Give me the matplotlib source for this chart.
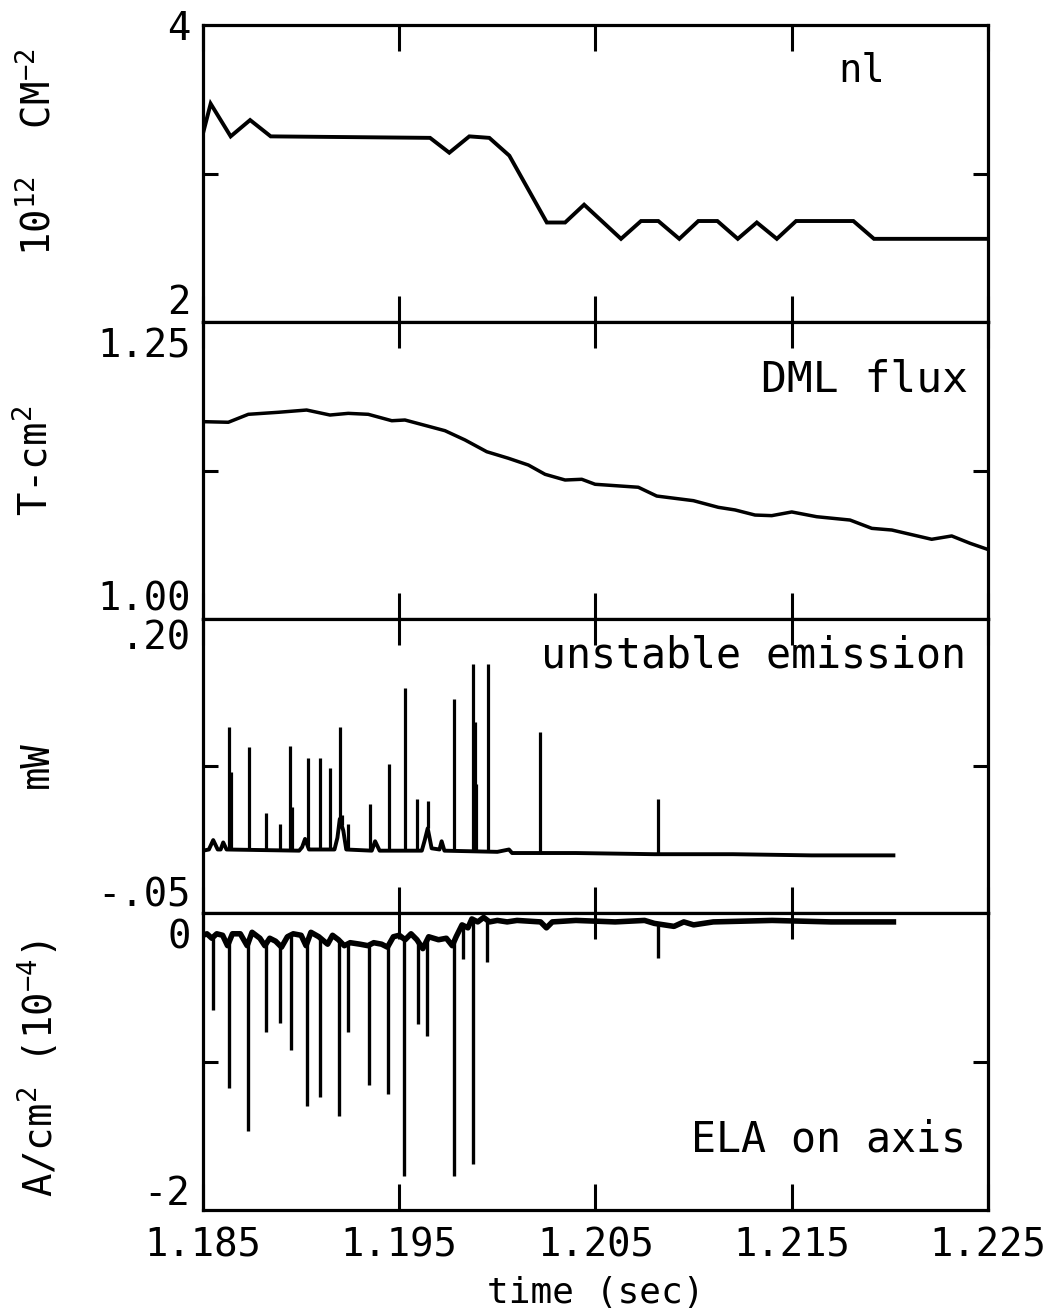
import matplotlib
matplotlib.use("Agg")
import matplotlib.pyplot as plt
import numpy as np

# ---------------- data ----------------
# Panel 1: line density nl (10^12 cm^-2)
nl_t = [1.18500, 1.18539, 1.18641, 1.18740, 1.18845, 1.19657, 1.19755, 1.19857,
        1.19959, 1.20061, 1.20252, 1.20345, 1.20442, 1.20630, 1.20732, 1.20820,
        1.20927, 1.21024, 1.21121, 1.21225, 1.21322, 1.21424, 1.21522, 1.21814,
        1.21919, 1.22500]
nl_v = [3.27, 3.47, 3.25, 3.36, 3.25, 3.24, 3.14, 3.25,
        3.24, 3.12, 2.67, 2.67, 2.79, 2.56, 2.68, 2.68,
        2.56, 2.68, 2.68, 2.56, 2.67, 2.56, 2.68, 2.68,
        2.56, 2.56]

# Panel 2: DML flux (T-cm^2)
dml_t = [1.18502, 1.18629, 1.18731, 1.18884, 1.19028, 1.19147, 1.19240, 1.19342,
         1.19462, 1.19529, 1.19733, 1.19835, 1.19946, 1.20056, 1.20158, 1.20243,
         1.20345, 1.20430, 1.20498, 1.20718, 1.20812, 1.20999, 1.21126, 1.21211,
         1.21313, 1.21398, 1.21500, 1.21627, 1.21797, 1.21908, 1.22010, 1.22213,
         1.22315, 1.22409, 1.22500]
dml_v = [1.1661, 1.1656, 1.1723, 1.1740, 1.1759, 1.1717, 1.1731, 1.1723,
         1.1669, 1.1675, 1.1585, 1.1507, 1.1408, 1.1353, 1.1296, 1.1218,
         1.1170, 1.1176, 1.1134, 1.1109, 1.1035, 1.0996, 1.0940, 1.0918,
         1.0875, 1.0870, 1.0901, 1.0861, 1.0833, 1.0763, 1.0749, 1.0671,
         1.0699, 1.0637, 1.0585]

# Panel 3: unstable emission (mW) - baseline and spikes
em_base_t = [1.18500, 1.18530, 1.18552, 1.18575, 1.18590, 1.18603, 1.18620, 1.18990,
             1.19005, 1.19020, 1.19040, 1.19170, 1.19185, 1.19197, 1.19215, 1.19230,
             1.19360, 1.19377, 1.19400, 1.19615, 1.19630, 1.19645, 1.19665, 1.19705,
             1.19716, 1.19730, 1.20000, 1.20059, 1.20075, 1.20400, 1.20800, 1.21200,
             1.21600, 1.22018]
em_base_v = [0.003, 0.004, 0.012, 0.004, 0.004, 0.010, 0.004, 0.003,
             0.006, 0.013, 0.004, 0.004, 0.014, 0.030, 0.020, 0.004,
             0.003, 0.011, 0.003, 0.003, 0.012, 0.022, 0.005, 0.004,
             0.011, 0.003, 0.002, 0.004, 0.001, 0.001, 0.000, 0.000,
             -0.001, -0.001]
em_spike_t = [1.18632, 1.18642, 1.18734, 1.18821, 1.18894, 1.18945, 1.18955, 1.19034,
              1.19096, 1.19149, 1.19197, 1.19207, 1.19240, 1.19351, 1.19446, 1.19529,
              1.19592, 1.19645, 1.19781, 1.19876, 1.19886, 1.19893, 1.19951, 1.20217,
              1.20820]
em_spike_v = [0.108, 0.070, 0.091, 0.035, 0.026, 0.092, 0.040, 0.082,
              0.082, 0.073, 0.108, 0.033, 0.026, 0.043, 0.077, 0.141,
              0.047, 0.045, 0.132, 0.162, 0.112, 0.060, 0.162, 0.104,
              0.047]

# Panel 4: ELA on axis (A/cm^2, 10^-4) - baseline and dips
ela_base_t = [1.18500, 1.18520, 1.18545, 1.18570, 1.18600, 1.18625, 1.18650, 1.18690,
              1.18725, 1.18750, 1.18790, 1.18815, 1.18840, 1.18870, 1.18900, 1.18930,
              1.18960, 1.19000, 1.19025, 1.19050, 1.19090, 1.19135, 1.19160, 1.19190,
              1.19220, 1.19250, 1.19300, 1.19340, 1.19370, 1.19410, 1.19440, 1.19470,
              1.19500, 1.19530, 1.19560, 1.19590, 1.19620, 1.19650, 1.19700, 1.19740,
              1.19770, 1.19790, 1.19820, 1.19850, 1.19870, 1.19900, 1.19930, 1.19960,
              1.20000, 1.20050, 1.20100, 1.20220, 1.20250, 1.20280, 1.20400, 1.20600,
              1.20750, 1.20800, 1.20900, 1.20950, 1.21000, 1.21100, 1.21400, 1.21700,
              1.22018]
ela_base_v = [-0.15, -0.14, -0.17, -0.14, -0.15, -0.22, -0.14, -0.14,
              -0.22, -0.13, -0.17, -0.22, -0.17, -0.19, -0.23, -0.16,
              -0.14, -0.15, -0.22, -0.13, -0.16, -0.21, -0.15, -0.18,
              -0.22, -0.20, -0.21, -0.22, -0.20, -0.21, -0.23, -0.16,
              -0.15, -0.18, -0.14, -0.18, -0.24, -0.16, -0.18, -0.17,
              -0.22, -0.16, -0.08, -0.10, -0.04, -0.06, -0.03, -0.06,
              -0.05, -0.06, -0.05, -0.06, -0.10, -0.06, -0.05, -0.06,
              -0.05, -0.07, -0.09, -0.06, -0.08, -0.06, -0.05, -0.06,
              -0.06]
ela_dip_t = [1.18552, 1.18632, 1.18731, 1.18821, 1.18894, 1.18950, 1.19032, 1.19096,
             1.19193, 1.19240, 1.19347, 1.19444, 1.19526, 1.19594, 1.19643, 1.19779,
             1.19827, 1.19874, 1.19946, 1.20819]
ela_dip_v = [-0.65, -1.18, -1.47, -0.80, -0.74, -0.92, -1.30, -1.24,
             -1.37, -0.80, -1.16, -1.22, -1.77, -0.75, -0.83, -1.77,
             -0.31, -1.69, -0.33, -0.30]

xticks = [1.185, 1.195, 1.205, 1.215, 1.225]
xtick_labels = ["1.185", "1.195", "1.205", "1.215", "1.225"]

# ---------------- figure ----------------
W, H = 1051, 1315
FONT = ["DejaVu Sans Mono", "DejaVu Sans"]
plt.rcParams["font.family"] = FONT
plt.rcParams["mathtext.default"] = "regular"
fig = plt.figure(figsize=(W / 100, H / 100), dpi=100)

left_px, right_px = 203, 988
bounds = [(25, 322), (322, 619), (619, 913), (913, 1210)]
ylims = [(2, 4), (1.0, 1.25), (-0.05, 0.20), (-2, 0)]
ylab_text = [("4", "2"), ("1.25", "1.00"), (".20", "-.05"), ("0", "-2")]
ylab_frac = [(0.987, 0.064), (0.919, 0.067), (0.932, 0.058), (0.919, 0.054)]

axes = []
for (top, bot), yl, labs, fr in zip(bounds, ylims, ylab_text, ylab_frac):
    ax = fig.add_axes([left_px / W, 1 - bot / H, (right_px - left_px) / W, (bot - top) / H])
    ax.set_xlim(1.185, 1.225)
    ax.set_ylim(*yl)
    for s in ax.spines.values():
        s.set_linewidth(2.3)
    ax.set_xticks(xticks)
    ax.tick_params(axis="x", direction="in", top=True, bottom=True, length=19, width=2.2,
                   labelbottom=False, pad=12)
    ax.set_yticks([(yl[0] + yl[1]) / 2])
    ax.tick_params(axis="y", direction="in", left=True, right=True, length=11, width=2.2,
                   labelleft=False)
    ax.text(-0.016, fr[0], labs[0], transform=ax.transAxes, ha="right", va="center",
            fontsize=28)
    ax.text(-0.016, fr[1], labs[1], transform=ax.transAxes, ha="right", va="center",
            fontsize=28)
    axes.append(ax)

ax1, ax2, ax3, ax4 = axes

ax1.plot(nl_t, nl_v, color="black", lw=2.8, solid_joinstyle="miter")
ax2.plot(dml_t, dml_v, color="black", lw=2.5)
ax3.plot(em_base_t, em_base_v, color="black", lw=2.8)
ax3.vlines(em_spike_t, np.interp(em_spike_t, em_base_t, em_base_v), em_spike_v,
           color="black", lw=2.3)
ax4.plot(ela_base_t, ela_base_v, color="black", lw=4.0)
ax4.vlines(ela_dip_t, np.interp(ela_dip_t, ela_base_t, ela_base_v), ela_dip_v,
           color="black", lw=2.4)

ax4.tick_params(axis="x", labelbottom=True, labelsize=28)
ax4.set_xticklabels(xtick_labels)
ax4.set_xlabel("time (sec)", fontsize=26, labelpad=8)

# panel annotations
def ftext(x, y, s, **kw):
    fig.text(x / W, 1 - y / H, s, **kw)

ftext(885, 71, "nl", ha="right", va="center", fontsize=28)
ftext(968, 379, "DML flux", ha="right", va="center", fontsize=31)
ftext(966, 656, "unstable emission", ha="right", va="center", fontsize=30)
ftext(966, 1140, "ELA on axis", ha="right", va="center", fontsize=30)

# y-axis labels
ftext(38, 152, r"10$^{12}$  CM$^{-2}$", rotation=90, ha="center", va="center", fontsize=28)
ftext(35, 461, r"T-cm$^{2}$", rotation=90, ha="center", va="center", fontsize=28)
ftext(37, 765, "mW", rotation=90, ha="center", va="center", fontsize=28)
ftext(38, 1069, r"A/cm$^{2}$ (10$^{-4}$)", rotation=90, ha="center", va="center", fontsize=28)

fig.savefig("out.png", dpi=100, facecolor="white")
